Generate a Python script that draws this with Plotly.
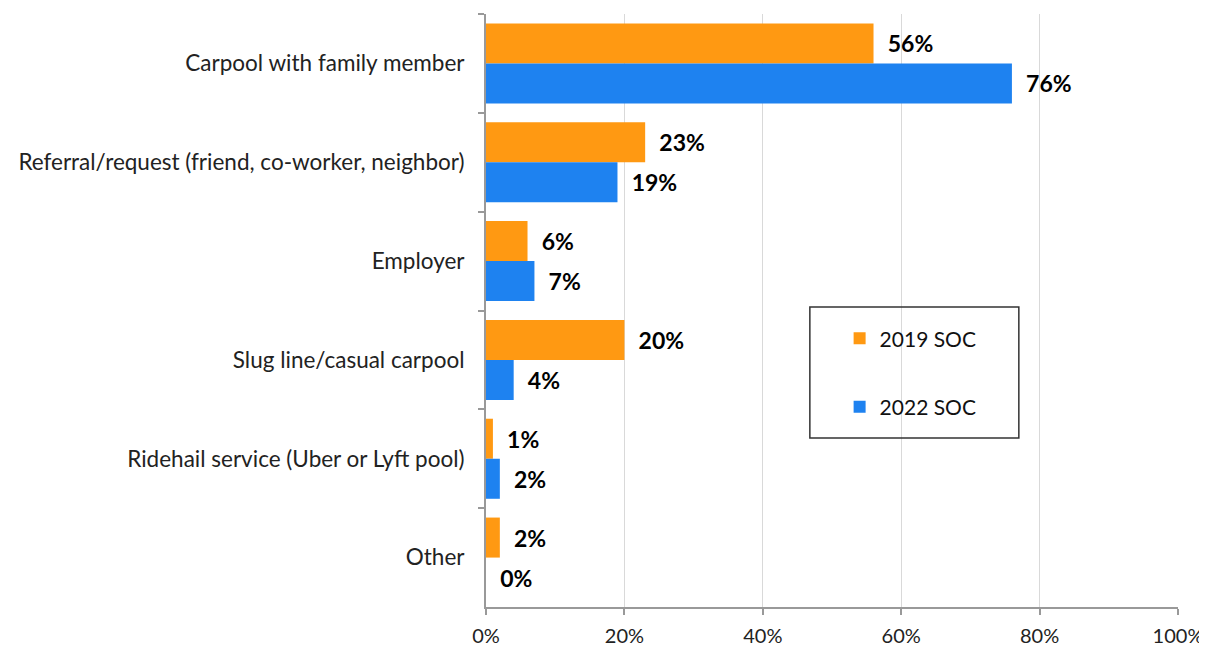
import plotly.graph_objects as go

categories = ["Carpool with family member",
              "Referral/request (friend, co-worker, neighbor)",
              "Employer",
              "Slug line/casual carpool",
              "Ridehail service (Uber or Lyft pool)",
              "Other"]
soc_2019 = [56, 23, 6, 20, 1, 2]
soc_2022 = [76, 19, 7, 4, 2, 0]
series_names = ["2019 SOC", "2022 SOC"]
colors = ["#FF9912", "#1E82F0"]
x_ticks = [0, 20, 40, 60, 80, 100]

FONT = "Lato, Open Sans, sans-serif"

fig = go.Figure()
for i, (name, vals) in enumerate(zip(series_names, [soc_2019, soc_2022])):
    fig.add_trace(go.Bar(
        y=categories, x=vals, orientation="h", name=name,
        marker=dict(color=colors[i], line=dict(width=0)),
        text=[f"\u00a0\u00a0{v}%" for v in vals],
        textposition="outside", cliponaxis=False,
        textfont=dict(family=FONT, size=23, color="black", weight="bold"),
        legendgroup=f"g{i}",
    ))

fig.update_layout(
    width=1199, height=642,
    margin=dict(l=478, r=29, t=6, b=43, autoexpand=False),
    barmode="group", bargap=0.19, bargroupgap=0,
    plot_bgcolor="white", paper_bgcolor="white",
    font=dict(family=FONT, size=19, color="#222"),
    showlegend=True,
    legend=dict(x=0.511, y=0.487, xanchor="left", yanchor="top",
                bgcolor="rgba(0,0,0,0)", tracegroupgap=38,
                font=dict(size=21, color="#111")),
    xaxis=dict(range=[0, 100], tickvals=x_ticks,
               ticktext=[f"{t}%" for t in x_ticks],
               showgrid=True, gridcolor="#D9D9D9", gridwidth=1,
               showline=True, linecolor="#999", linewidth=2,
               ticks="outside", ticklen=6, tickcolor="#999", tickwidth=2,
               zeroline=False, automargin=False, ticklabelstandoff=4,
               tickfont=dict(size=20)),
    yaxis=dict(autorange="reversed", showline=True, linecolor="#999", linewidth=2,
               ticks="outside", ticklen=6, tickcolor="#999", tickwidth=2,
               tickson="boundaries", showgrid=False, ticklabelstandoff=15,
               automargin=False, tickfont=dict(size=22.5)),
    shapes=[dict(type="rect", xref="paper", yref="paper",
                 x0=0.468, x1=0.770, y0=0.285, y1=0.506,
                 line=dict(color="#333", width=1.5), fillcolor="rgba(0,0,0,0)")],
)

fig.write_html("out.html")
